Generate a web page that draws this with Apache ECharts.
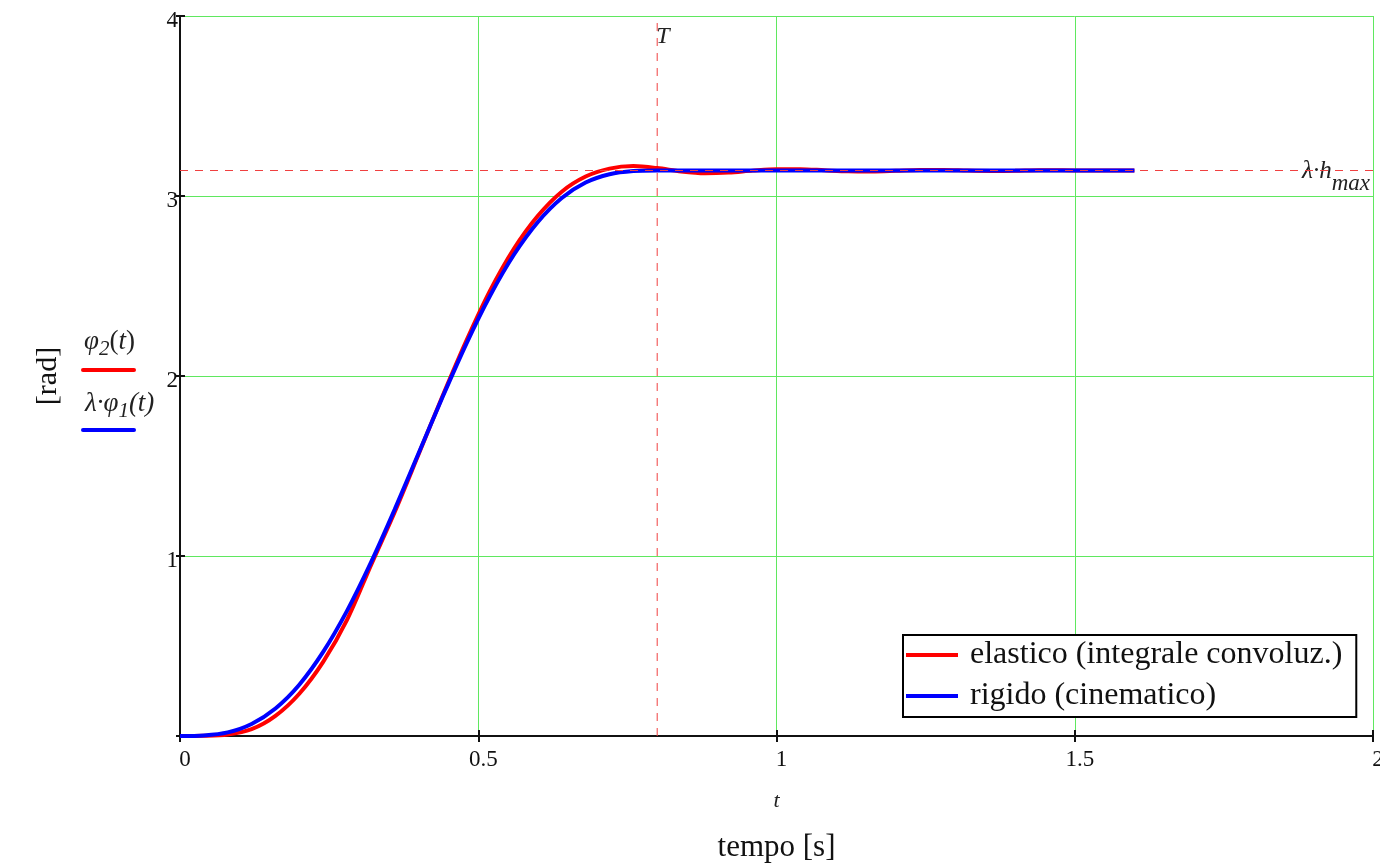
<!DOCTYPE html>
<html lang="it">
<head>
    <meta charset="UTF-8">
    <script src="https://cdn.jsdelivr.net/npm/echarts@6/dist/echarts.min.js"></script>
    <title>phi2 vs lambda phi1</title>
    <style>
        body { margin: 0; background: #fff; }
        #main { width: 1380px; height: 867px; }
    </style>
</head>
<body>
    <div id="main"></div>
    <script type="text/javascript">
        // dati
        var tValues = [0, 0.04, 0.08, 0.12, 0.16, 0.20, 0.24, 0.28, 0.32, 0.36, 0.40,
            0.44, 0.48, 0.52, 0.56, 0.60, 0.64, 0.68, 0.72, 0.76, 0.80,
            0.84, 0.88, 0.92, 0.96, 1.00, 1.04, 1.08, 1.12, 1.16, 1.20,
            1.24, 1.28, 1.32, 1.36, 1.40, 1.44, 1.48, 1.52, 1.56, 1.60];
        var elastic = [0, 0.001, 0.008, 0.038, 0.112, 0.235, 0.412, 0.645, 0.948, 1.245, 1.565,
            1.887, 2.195, 2.475, 2.708, 2.890, 3.024, 3.108, 3.152, 3.166, 3.155,
            3.136, 3.126, 3.130, 3.141, 3.149, 3.149, 3.143, 3.137, 3.136, 3.140,
            3.145, 3.145, 3.141, 3.139, 3.140, 3.143, 3.143, 3.141, 3.141, 3.142];
        var rigid = [0, 0.003, 0.020, 0.067, 0.153, 0.285, 0.467, 0.695, 0.963, 1.259, 1.571,
            1.882, 2.179, 2.447, 2.675, 2.856, 2.989, 3.075, 3.121, 3.139, 3.142,
            3.142, 3.142, 3.142, 3.142, 3.142, 3.142, 3.142, 3.142, 3.142, 3.142,
            3.142, 3.142, 3.142, 3.142, 3.142, 3.142, 3.142, 3.142, 3.142, 3.142];
        var xTicks = [0, 0.5, 1, 1.5, 2];
        var yTicks = [0, 1, 2, 3, 4];
        var T = 0.8;
        var hMax = 3.1416;
        var seriesNames = ['elastico (integrale convoluz.)', 'rigido (cinematico)'];

        var FONT = 'Liberation Serif';
        var GREEN = '#5fe85f';
        var DASH_RED = '#f04040';
        var xMin = xTicks[0], xMax = xTicks[xTicks.length - 1];
        var yMin = yTicks[0], yMax = yTicks[yTicks.length - 1];
        var myChart = echarts.init(document.getElementById('main'));

        function pairs(ys) {
            return tValues.map(function (t, i) { return [t, ys[i]]; });
        }

        function refLine(data) {
            return {
                type: 'line',
                data: data,
                showSymbol: false,
                silent: true,
                color: DASH_RED,
                lineStyle: { color: DASH_RED, width: 1, type: [8, 7] },
                z: 4
            };
        }

        var option = {
            animation: false,
            textStyle: { fontFamily: FONT },
            grid: { left: 180, top: 16, right: 7, bottom: 131, outerBoundsMode: 'none', containLabel: false },
            legend: {
                data: seriesNames,
                orient: 'vertical',
                left: 903,
                top: 635,
                padding: [3, 14, 4, 3],
                itemGap: 7,
                itemWidth: 52,
                itemHeight: 4,
                icon: 'rect',
                borderColor: '#000',
                borderWidth: 2,
                borderRadius: 0,
                backgroundColor: '#fff',
                textStyle: { fontFamily: FONT, fontSize: 32, color: '#111', lineHeight: 34, padding: [0, 0, 0, 7] }
            },
            xAxis: [{
                type: 'value',
                min: xMin, max: xMax, interval: 0.5,
                name: 't',
                nameLocation: 'middle',
                nameGap: 54,
                nameTextStyle: { fontFamily: FONT, fontStyle: 'italic', fontSize: 22, color: '#222' },
                axisLine: { onZero: false, lineStyle: { color: '#111', width: 2 } },
                axisTick: { length: 6, lineStyle: { color: '#111', width: 2 } },
                axisLabel: {
                    fontFamily: FONT, fontSize: 23, color: '#111', margin: 12,
                    padding: [0, 0, 0, 10],
                    formatter: function (v) { return String(v); }
                },
                splitLine: { show: true, lineStyle: { color: GREEN, width: 1 } }
            }, {
                type: 'value',
                position: 'bottom',
                min: xMin, max: xMax, interval: 0.5,
                name: 'tempo [s]',
                nameLocation: 'middle',
                nameGap: 96,
                nameTextStyle: { fontFamily: FONT, fontSize: 31, color: '#111' },
                axisLine: { show: false },
                axisTick: { inside: true, length: 6, lineStyle: { color: '#111', width: 2 } },
                axisLabel: { show: false },
                splitLine: { show: false }
            }],
            yAxis: [{
                type: 'value',
                min: yMin, max: yMax, interval: 1,
                name: '[rad]',
                nameLocation: 'middle',
                nameGap: 117,
                nameTextStyle: { fontFamily: FONT, fontSize: 30, color: '#111' },
                axisLine: { onZero: false, lineStyle: { color: '#111', width: 2 } },
                axisTick: { length: 4, lineStyle: { color: '#111', width: 2 } },
                axisLabel: {
                    fontFamily: FONT, fontSize: 23, color: '#111', margin: 2,
                    verticalAlign: 'top', lineHeight: 10,
                    formatter: function (v) { return v === 0 ? '' : String(v); }
                },
                splitLine: { show: true, lineStyle: { color: GREEN, width: 1 } }
            }, {
                type: 'value',
                position: 'left',
                min: yMin, max: yMax, interval: 1,
                axisLine: { show: false },
                axisTick: { inside: true, length: 5, lineStyle: { color: '#111', width: 2 } },
                axisLabel: { show: false },
                splitLine: { show: false }
            }],
            series: [{
                name: seriesNames[0],
                type: 'line',
                data: pairs(elastic),
                showSymbol: false,
                smooth: 0.3,
                color: '#ff0000',
                lineStyle: { color: '#ff0000', width: 4 },
                z: 2
            }, {
                name: seriesNames[1],
                type: 'line',
                data: pairs(rigid),
                showSymbol: false,
                smooth: 0.3,
                color: '#0000ff',
                lineStyle: { color: '#0000ff', width: 4 },
                z: 3
            },
            // linee di riferimento T e lambda*h_max
            refLine([[T, yMin], [T, yMax]]),
            refLine([[xMin, hMax], [xMax, hMax]])
            ]
        };

        myChart.setOption(option);

        // etichette delle linee di riferimento e delle curve
        var pT = myChart.convertToPixel({ xAxisIndex: 0, yAxisIndex: 0 }, [T, yMax]);
        var pH = myChart.convertToPixel({ xAxisIndex: 0, yAxisIndex: 0 }, [xMax, hMax]);
        var it = { fontFamily: FONT, fontStyle: 'italic', fontSize: 27, fill: '#222' };
        var sub = { fontFamily: FONT, fontStyle: 'italic', fontSize: 21, fill: '#222', padding: [14, 0, 0, 0] };

        myChart.setOption({
            graphic: [{
                type: 'text', left: pT[0] - 1, top: pT[1] + 9,
                style: { text: 'T', font: 'italic 24px "' + FONT + '"', fill: '#222' }
            }, {
                type: 'text', x: pH[0] - 3, y: pH[1] + 1,
                style: {
                    text: '{i|λ·h}{s|max}', align: 'right', verticalAlign: 'middle',
                    rich: {
                        i: { fontFamily: FONT, fontStyle: 'italic', fontSize: 25, fill: '#222' },
                        s: { fontFamily: FONT, fontStyle: 'italic', fontSize: 23, fill: '#222', padding: [24, 0, 0, 0] }
                    }
                }
            }, {
                type: 'text', x: 84, y: 342,
                style: {
                    text: '{i|φ}{s|2}{n|(}{i|t}{n|)}', verticalAlign: 'middle',
                    rich: { i: it, s: sub, n: { fontFamily: FONT, fontSize: 27, fill: '#222' } }
                }
            }, {
                type: 'line', shape: { x1: 83, y1: 370, x2: 134, y2: 370 },
                style: { stroke: '#ff0000', lineWidth: 4, lineCap: 'round' }
            }, {
                type: 'text', x: 85, y: 404,
                style: {
                    text: '{n|λ·}{i|φ}{s|1}{n|(}{i|t}{n|)}', verticalAlign: 'middle',
                    rich: { i: it, s: sub, n: { fontFamily: FONT, fontStyle: 'italic', fontSize: 27, fill: '#222' } }
                }
            }, {
                type: 'line', shape: { x1: 83, y1: 430, x2: 134, y2: 430 },
                style: { stroke: '#0000ff', lineWidth: 4, lineCap: 'round' }
            }]
        });
    </script>
</body>
</html>
